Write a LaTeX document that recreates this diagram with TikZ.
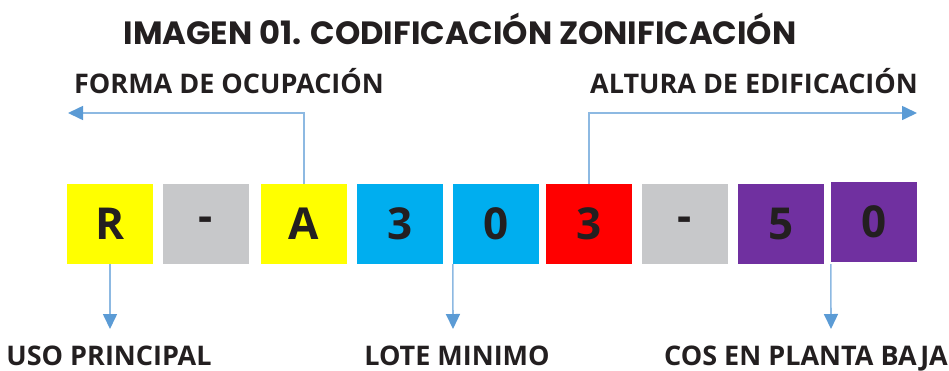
\documentclass[tikz,border=0pt]{standalone}
\usepackage{fontspec}
\setsansfont{Open Sans}
\newfontfamily\ttlfont{Poppins}
\usetikzlibrary{arrows.meta,positioning}
\definecolor{cyel}{RGB}{255,255,0}
\definecolor{cgry}{RGB}{199,200,202}
\definecolor{ccya}{RGB}{0,174,239}
\definecolor{cred}{RGB}{255,0,0}
\definecolor{cpur}{RGB}{112,48,160}
\definecolor{ctxt}{RGB}{35,31,32}
\definecolor{cline}{RGB}{141,185,226}
\definecolor{ctip}{RGB}{91,155,213}
\tikzset{
  cell/.style={minimum width=86pt, minimum height=80pt, inner sep=0pt,
               font=\sffamily\bfseries\fontsize{44}{44}\selectfont, text=ctxt},
  lbl/.style={font=\sffamily\bfseries\fontsize{27}{30}\selectfont, text=ctxt,
              inner sep=0pt, anchor=base},
  ttl/.style={font=\ttlfont\bfseries\fontsize{32.2}{36}\selectfont, text=ctxt,
              inner sep=0pt, anchor=base},
  conn/.style={cline, line width=1.6pt,
               -{Triangle[length=15pt, width=14pt, color=ctip]}},
}
\begin{document}
\begin{tikzpicture}[x=1pt, y=-1pt]
  \useasboundingbox (0,0) rectangle (949,370);
  % title
  \node[ttl] (title) at (460,44) {IMAGEN 01. CODIFICACIÓN ZONIFICACIÓN};
  % code cells
  \node[cell, fill=cyel] (cR)  at (110,224) {R};
  \node[cell, fill=cgry] (cD1) at (206,224) {-};
  \node[cell, fill=cyel] (cA)  at (304,224) {A};
  \node[cell, fill=ccya] (c3a) at (400,224) {3};
  \node[cell, fill=ccya] (c0a) at (496,224) {0};
  \node[cell, fill=cred] (c3b) at (589,224) {3};
  \node[cell, fill=cgry] (cD2) at (685,224) {-};
  \node[cell, fill=cpur] (c5)  at (781,224) {5};
  \node[cell, fill=cpur] (c0b) at (874,222) {0};
  % labels
  \node[lbl] (lForma)  at (229,93)  {FORMA DE OCUPACIÓN};
  \node[lbl] (lAltura) at (754,93)  {ALTURA DE EDIFICACIÓN};
  \node[lbl] (lUso)    at (109,365) {USO PRINCIPAL};
  \node[lbl] (lLote)   at (457,365) {LOTE MINIMO};
  \node[lbl] (lCos)    at (806,365) {COS EN PLANTA BAJA};
  % arrow ends
  \coordinate (eForma)  at (68,113);
  \coordinate (eAltura) at (917,113);
  \coordinate (eUso)  at (110,329);
  \coordinate (eLote) at (453,329);
  \coordinate (eCos)  at (831,329);
  % connectors
  \draw[conn] (cA.north) |- (eForma);
  \draw[conn] (c3b.north) |- (eAltura);
  \draw[conn] (cR.south) -- (eUso);
  \draw[conn] (c0a.south west) -- (eLote);
  \draw[conn] (c0b.south west |- cR.south) -- (eCos);
\end{tikzpicture}
\end{document}
